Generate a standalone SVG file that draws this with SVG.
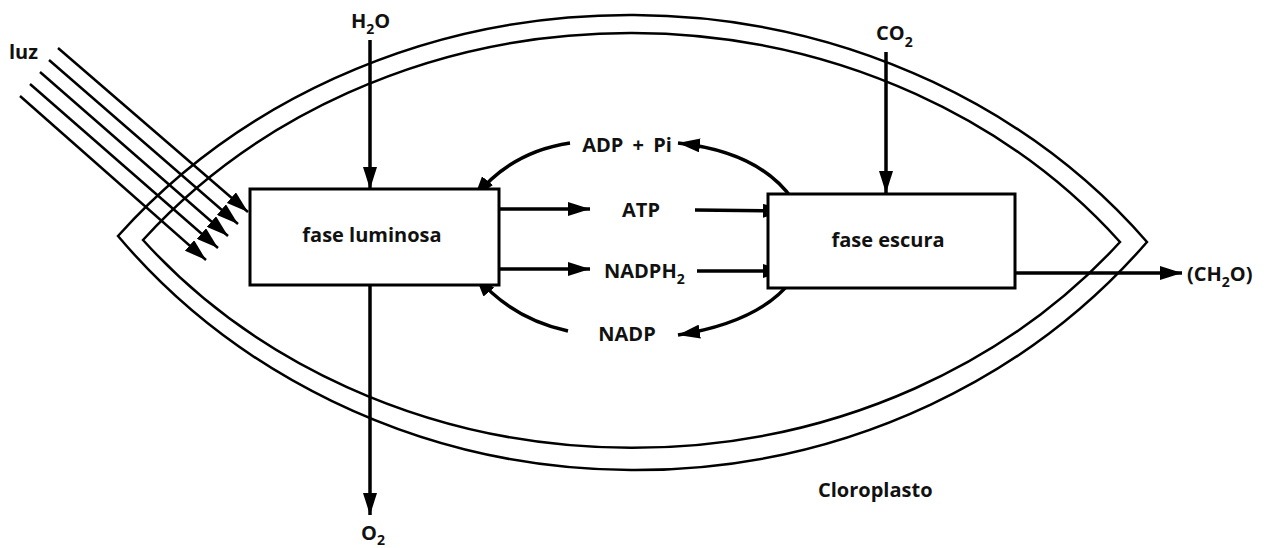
<svg xmlns="http://www.w3.org/2000/svg" width="1274" height="548" viewBox="0 0 1274 548">
<style>
text{font-family:"Open Sans","Liberation Sans",sans-serif;font-weight:bold;font-size:20px;fill:#111}
.sub{font-size:14px}
.lens{fill:none;stroke:#000;stroke-width:2.5}
.box{fill:#fff;stroke:#000;stroke-width:3}
.arr{fill:none;stroke:#000;stroke-width:3.5;marker-end:url(#ah)}
.ray{fill:none;stroke:#000;stroke-width:2.5;marker-end:url(#ah)}
</style>
<defs>
<marker id="ah" markerUnits="userSpaceOnUse" markerWidth="24" markerHeight="14" refX="22" refY="7" orient="auto">
<path d="M0,0 L22,7 L0,14 z" fill="#000"/>
</marker>
</defs>
<g id="cloroplasto">
<path class="lens" d="M118,236 A659,597 0 0 1 1147,242 A659,616 0 0 1 118,236 Z"/>
<path class="lens" d="M143,240 A626,555 0 0 1 1120,242 A626,552 0 0 1 143,240 Z"/>
<text x="818" y="497">Cloroplasto</text>
</g>
<g id="connectors">
<line class="ray" x1="58" y1="48" x2="248" y2="212"/>
<line class="ray" x1="49" y1="60" x2="238" y2="224"/>
<line class="ray" x1="40" y1="72" x2="228" y2="236"/>
<line class="ray" x1="30" y1="84" x2="218" y2="248"/>
<line class="ray" x1="20" y1="96" x2="206" y2="260"/>
<line class="arr" x1="370" y1="40" x2="370" y2="189"/>
<line class="arr" x1="370" y1="285" x2="370" y2="515"/>
<line class="arr" x1="886" y1="52" x2="886" y2="193"/>
<line class="arr" x1="499" y1="209" x2="590" y2="209"/>
<line class="arr" x1="499" y1="269" x2="590" y2="269"/>
<line class="arr" x1="695" y1="210" x2="785" y2="211"/>
<line class="arr" x1="697" y1="271" x2="785" y2="271"/>
<line class="arr" x1="1000" y1="273" x2="1182" y2="273"/>
<path class="arr" d="M570,143 Q510,152 474,198"/>
<path class="arr" d="M793,200 Q760,152 678,143"/>
<path class="arr" d="M568,331 Q510,318 475,275"/>
<path class="arr" d="M792,280 Q760,322 678,335"/>
</g>
<g id="luz"><text x="9" y="59">luz</text></g>
<g id="h2o"><text x="351" y="28">H<tspan class="sub" dy="6">2</tspan><tspan dy="-6">O</tspan></text></g>
<g id="o2"><text x="361" y="540">O<tspan class="sub" dy="5">2</tspan></text></g>
<g id="co2"><text x="876" y="40">CO<tspan class="sub" dy="7">2</tspan></text></g>
<g id="fase-luminosa">
<rect class="box" x="250" y="189" width="249" height="96"/>
<text x="372" y="242" text-anchor="middle">fase luminosa</text>
</g>
<g id="fase-escura">
<rect class="box" x="768" y="194" width="247" height="94"/>
<text x="888" y="247" text-anchor="middle">fase escura</text>
</g>
<g id="adp"><text x="627" y="152" text-anchor="middle" word-spacing="4">ADP + Pi</text></g>
<g id="atp"><text x="641" y="217" text-anchor="middle">ATP</text></g>
<g id="nadph2"><text x="604" y="278">NADPH<tspan class="sub" dy="6">2</tspan></text></g>
<g id="nadp"><text x="627" y="341" text-anchor="middle">NADP</text></g>
<g id="ch2o"><text x="1187" y="281">(CH<tspan class="sub" dy="6">2</tspan><tspan dy="-6">O)</tspan></text></g>
</svg>
